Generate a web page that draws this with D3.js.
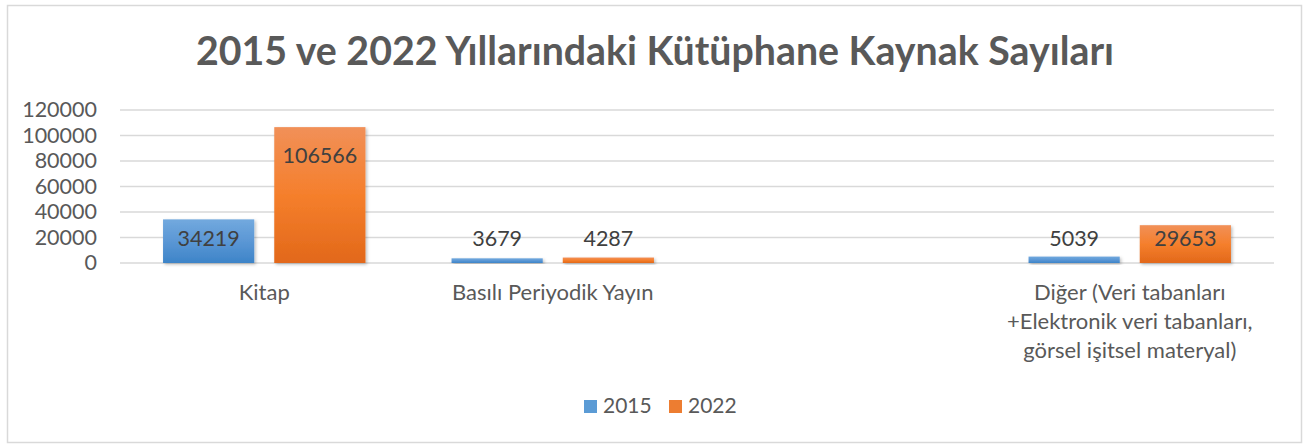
<!DOCTYPE html>
<html>
<head>
<meta charset="utf-8">
<script src="https://cdn.jsdelivr.net/npm/d3@7"></script>
<style>
  body { margin: 0; background: #fff; }
  text { font-family: Lato, "Open Sans", sans-serif; }
</style>
</head>
<body>
<div id="chart"></div>
<script>
(function() {

  var categories = ["Kitap", "Basılı Periyodik Yayın", "", "Diğer (Veri tabanları +Elektronik veri tabanları, görsel işitsel materyal)"]
  var series = ["2015", "2022"]
  var values2015 = [34219, 3679, null, 5039]
  var values2022 = [106566, 4287, null, 29653]
  var yTicks = [0, 20000, 40000, 60000, 80000, 100000, 120000]
  var title = "2015 ve 2022 Yıllarındaki Kütüphane Kaynak Sayıları"

  var width = 1304, height = 444
  var margin = { top: 110, left: 120, right: 30, bottom: 181 }

  var svg = d3.select("#chart")
    .append("svg")
    .attr("width", width)
    .attr("height", height)

  var defs = svg.append("defs")

  var grads = [
    { id: "g2015", stops: ["#72a9de", "#5b97d5", "#3d84c8"] },
    { id: "g2022", stops: ["#f19058", "#f57f2c", "#e2681a"] }
  ]
  grads.forEach(function(g) {
    var lg = defs.append("linearGradient")
      .attr("id", g.id)
      .attr("x1", 0).attr("y1", 0).attr("x2", 0).attr("y2", 1)
    g.stops.forEach(function(c, i) {
      lg.append("stop").attr("offset", i / (g.stops.length - 1)).attr("stop-color", c)
    })
  })

  defs.append("filter")
    .attr("id", "shadow")
    .attr("x", "-20%").attr("y", "-20%").attr("width", "140%").attr("height", "140%")
    .append("feDropShadow")
    .attr("dx", 1.5).attr("dy", 1.5).attr("stdDeviation", 1.5)
    .attr("flood-color", "#000").attr("flood-opacity", 0.25)

  // chart border
  svg.append("rect")
    .attr("x", 7.5).attr("y", 5.5)
    .attr("width", 1294).attr("height", 437)
    .attr("fill", "#fff")
    .attr("stroke", "#d9d9d9")
    .attr("stroke-width", 1.5)

  var yScale = d3.scaleLinear()
    .domain([0, 120000])
    .range([height - margin.bottom, margin.top])

  var xScale = d3.scaleBand()
    .domain(d3.range(categories.length))
    .range([margin.left, width - margin.right])

  var xSub = d3.scaleBand()
    .domain(series)
    .range([0, xScale.bandwidth()])
    .paddingInner(0.18)
    .paddingOuter(0.387)

  var colorScale = d3.scaleOrdinal()
    .domain(series)
    .range(["url(#g2015)", "url(#g2022)"])
  var legendColor = d3.scaleOrdinal()
    .domain(series)
    .range(["#5b9bd5", "#ed7d31"])

  // gridlines
  svg.append("g")
    .attr("class", "grid")
    .selectAll("line")
    .data(yTicks)
    .enter().append("line")
    .attr("x1", margin.left)
    .attr("x2", width - margin.right)
    .attr("y1", function(d) { return yScale(d) })
    .attr("y2", function(d) { return yScale(d) })
    .attr("stroke", "#d9d9d9")
    .attr("stroke-width", 1.5)

  // y axis labels
  var yAxis = d3.axisLeft(yScale)
    .tickValues(yTicks)
    .tickSize(0)
    .tickPadding(0)
    .tickFormat(d3.format("d"))

  svg.append("g")
    .attr("transform", "translate(97,0)")
    .call(yAxis)
    .call(function(g) { g.select(".domain").remove() })
    .selectAll("text")
    .attr("fill", "#595959")
    .attr("font-size", "21.5px")
    .attr("font-family", "Lato, sans-serif")

  // bars
  var rows = []
  categories.forEach(function(c, i) {
    rows.push({ cat: i, key: "2015", value: values2015[i] })
    rows.push({ cat: i, key: "2022", value: values2022[i] })
  })
  rows = rows.filter(function(d) { return d.value != null })

  svg.selectAll(".bar")
    .data(rows)
    .enter().append("rect")
    .attr("class", "bar")
    .attr("x", function(d) { return xScale(d.cat) + xSub(d.key) })
    .attr("width", xSub.bandwidth())
    .attr("y", function(d) { return yScale(d.value) })
    .attr("height", function(d) { return yScale(0) - yScale(d.value) })
    .attr("fill", function(d) { return colorScale(d.key) })
    .attr("filter", "url(#shadow)")

  // data labels
  svg.selectAll(".bar-label")
    .data(rows)
    .enter().append("text")
    .attr("class", "bar-label")
    .attr("x", function(d) { return xScale(d.cat) + xSub(d.key) + xSub.bandwidth() / 2 })
    .attr("y", function(d) {
      return Math.min(yScale(d.value) + 28, yScale(0) - 25)
    })
    .attr("dy", "0.35em")
    .attr("text-anchor", "middle")
    .attr("fill", "#404040")
    .attr("font-size", "21.5px")
    .text(function(d) { return d.value })

  // category labels, wrapped to the band
  function wrap(text, maxWidth, el) {
    var words = text.split(" ")
    var lines = []
    var line = ""
    words.forEach(function(w) {
      var test = line ? line + " " + w : w
      el.text(test)
      if (line && el.node().getComputedTextLength() > maxWidth) {
        lines.push(line)
        line = w
      } else {
        line = test
      }
    })
    if (line) lines.push(line)
    el.text("")
    return lines
  }

  svg.selectAll(".cat-label")
    .data(categories)
    .enter().append("text")
    .attr("class", "cat-label")
    .attr("text-anchor", "middle")
    .attr("fill", "#595959")
    .attr("font-size", "22px")
    .each(function(d, i) {
      var el = d3.select(this)
      var lines = wrap(d, xScale.bandwidth() - 15, el)
      lines.forEach(function(l, j) {
        el.append("tspan")
          .attr("x", xScale(i) + xScale.bandwidth() / 2)
          .attr("y", 300 + j * 29)
          .text(l)
      })
    })

  // title
  svg.append("text")
    .attr("class", "title")
    .attr("x", 655)
    .attr("y", 65)
    .attr("text-anchor", "middle")
    .attr("fill", "#595959")
    .attr("font-weight", "bold")
    .attr("font-size", "39.3px")
    .text(title)

  // legend
  var legend = svg.selectAll(".legend")
    .data(series)
    .enter().append("g")
    .attr("class", "legend")
    .attr("transform", function(d, i) { return "translate(" + (584 + i * 85) + ",400)" })

  legend.append("rect")
    .attr("width", 13)
    .attr("height", 13)
    .attr("fill", function(d) { return legendColor(d) })

  legend.append("text")
    .attr("x", 19)
    .attr("y", 13)
    .attr("fill", "#595959")
    .attr("font-size", "21px")
    .text(function(d) { return d })

})();
</script>
</body>
</html>
